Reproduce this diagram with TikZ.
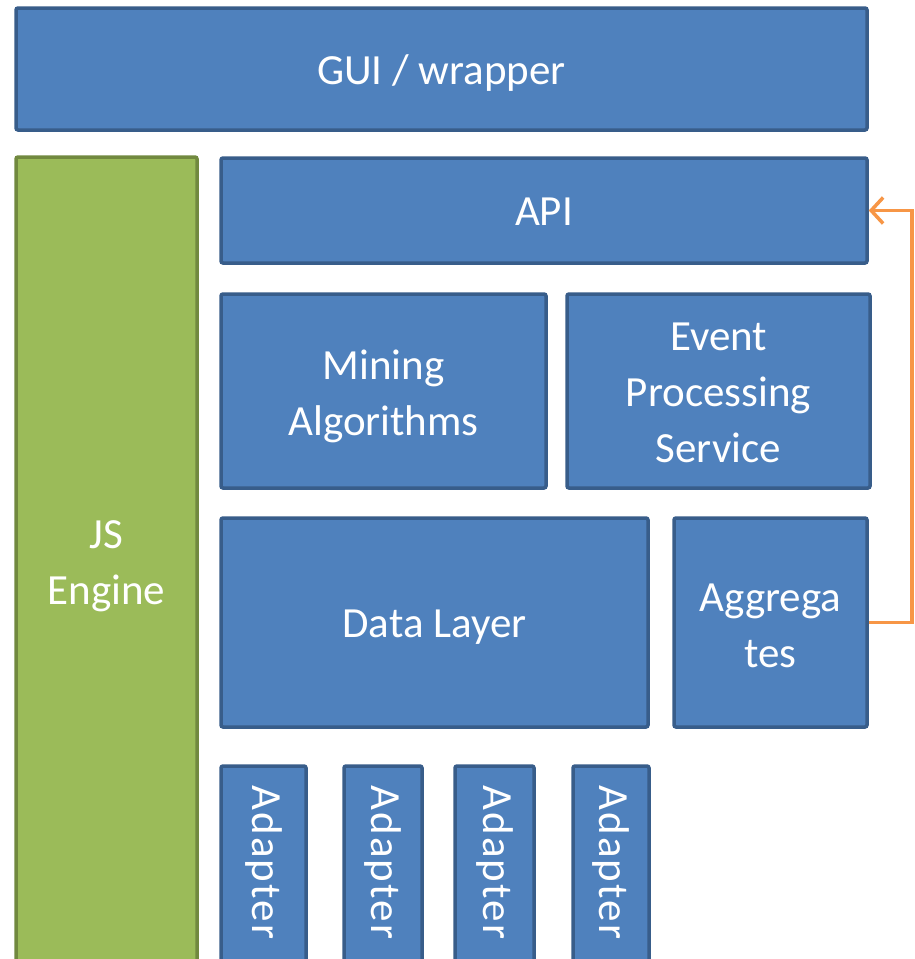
\documentclass[tikz,border=0pt]{standalone}
\usepackage{fontspec}
\setmainfont{Carlito}
\usetikzlibrary{arrows.meta}
\definecolor{blkfill}{HTML}{4F81BD}
\definecolor{blkline}{HTML}{385D8A}
\definecolor{grnfill}{HTML}{9BBB59}
\definecolor{grnline}{HTML}{71893F}
\definecolor{arrorange}{HTML}{F79646}
\newcommand{\lines}[2][-5pt]{\raisebox{#1}[\height][\depth]{\begin{tabular}[c]{@{}c@{}}#2\end{tabular}}}
\tikzset{
  blk/.style={draw=blkline, fill=blkfill, line width=3.5pt, rounded corners=2pt,
    inner sep=0pt, text=white, align=center, font=\fontsize{43}{56}\selectfont},
  grn/.style={blk, draw=grnline, fill=grnfill},
  adtext/.style={rotate=-90, anchor=west, text=white, inner sep=0pt,
    font=\fontsize{43}{56}\selectfont\addfontfeature{LetterSpace=5}},
  feedback/.style={draw=arrorange, line width=3.5pt, -{Straight Barb[length=12pt,width=26pt]}}
}
\begin{document}
\begin{tikzpicture}[x=1pt, y=-1pt]
\clip (0,0) rectangle (914,959);
\fill[white] (0,0) rectangle (914,959);
\node[blk, minimum width=851pt, minimum height=122pt] (gui) at (441.5,69) {\lines[-4pt]{GUI / wrapper}};
\node[grn, minimum width=181pt, minimum height=808pt] (js) at (106.5,561) {\lines[-4pt]{JS\\Engine}};
\node[blk, minimum width=646pt, minimum height=105pt] (api) at (544,210.5) {\lines[-4pt]{API}};
\node[blk, minimum width=325pt, minimum height=194pt] (mining) at (383.5,391) {\lines{Mining\\Algorithms}};
\node[blk, minimum width=303pt, minimum height=194pt] (event) at (718.5,391) {\lines[-4pt]{Event\\Processing\\Service}};
\node[blk, minimum width=427pt, minimum height=209pt] (data) at (434.5,622.5) {\lines[-4pt]{Data Layer}};
\node[blk, minimum width=193pt, minimum height=209pt] (aggr) at (770.5,622.5) {\lines[-6pt]{Aggrega\\tes}};
\node[blk, minimum width=85pt, minimum height=209pt] (ad1) at (263.5,870.5) {};
\node[blk, minimum width=78pt, minimum height=209pt] (ad2) at (383,870.5) {};
\node[blk, minimum width=79pt, minimum height=209pt] (ad3) at (494.5,870.5) {};
\node[blk, minimum width=76pt, minimum height=209pt] (ad4) at (611,870.5) {};
\node[adtext] (ad1t) at ([yshift=-21pt]ad1.north) {Adapter};
\node[adtext] (ad2t) at ([yshift=-21pt]ad2.north) {Adapter};
\node[adtext] (ad3t) at ([yshift=-21pt]ad3.north) {Adapter};
\node[adtext] (ad4t) at ([yshift=-21pt]ad4.north) {Adapter};
\draw[feedback] (aggr.east) -- ++(43,0) |- (api.east);
\end{tikzpicture}
\end{document}
